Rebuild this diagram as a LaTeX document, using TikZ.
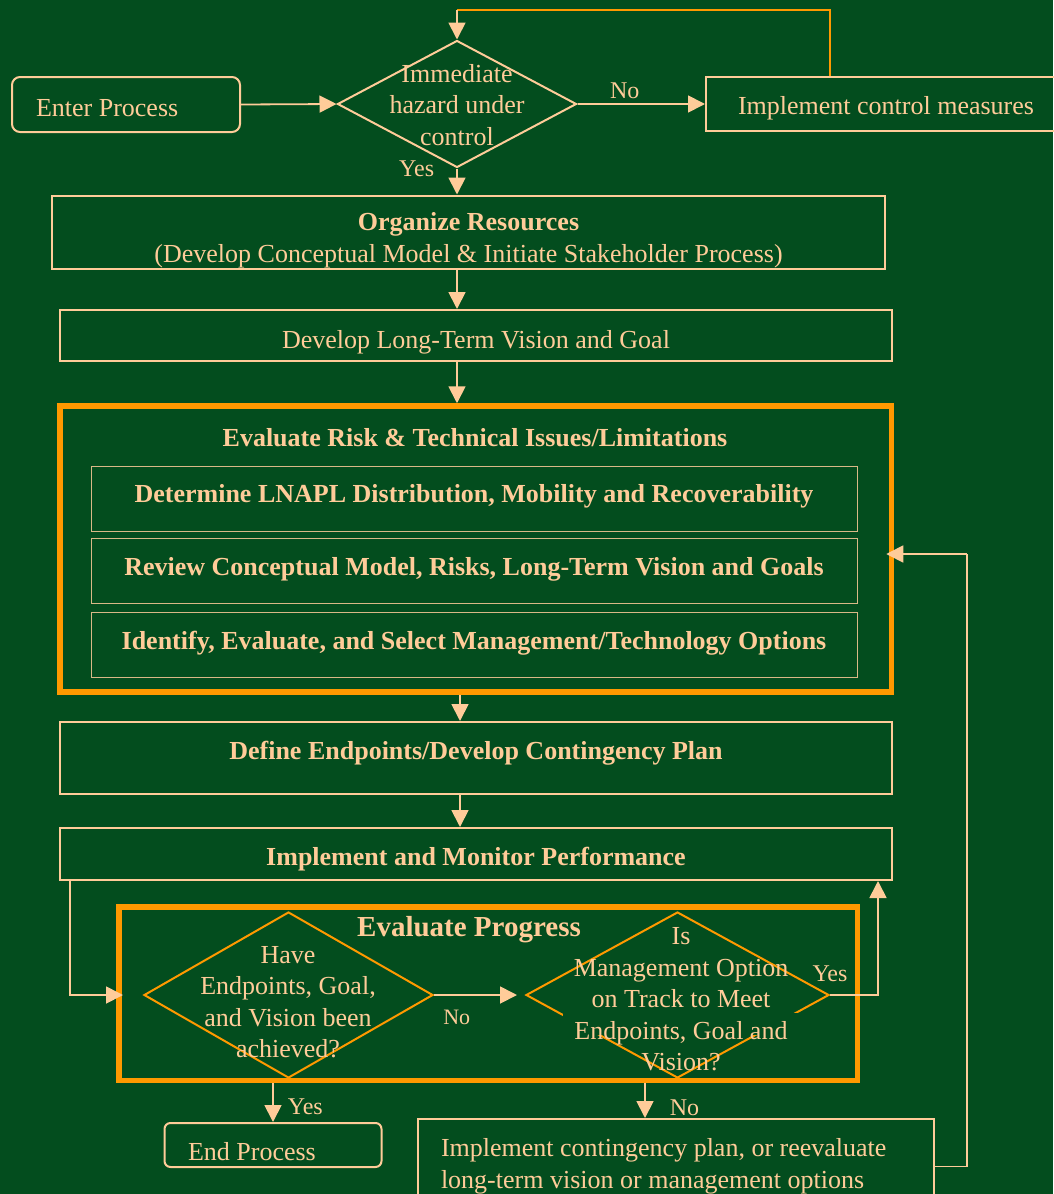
\documentclass[tikz,border=0pt]{standalone}
\usepackage{fontspec}
\setmainfont{Liberation Serif}
\usepackage{xcolor}
\usetikzlibrary{arrows.meta, shapes.geometric, calc}

\definecolor{bggreen}{RGB}{3,77,30}
\definecolor{peach}{RGB}{255,204,153}
\definecolor{amber}{RGB}{255,153,0}
\newcommand{\sinktext}[2]{\raisebox{-#1}[\height][\depth]{#2}}

\begin{document}
\begin{tikzpicture}[x=1pt, y=-1pt, >={Triangle[length=17pt, width=17pt]},
  every node/.style={text=peach, inner sep=0pt, font=\fontsize{26}{31.5}\selectfont},
  box/.style={draw=peach, line width=2pt, align=center},
  subbox/.style={draw=peach!85!bggreen, line width=1pt, align=center, minimum width=766pt, minimum height=65pt, font=\fontsize{26}{31.5}\selectfont\bfseries},
  hilite/.style={draw=amber, line width=5.5pt},
  decision/.style={diamond, draw=#1, line width=2pt},
  link/.style={->, draw=peach, line width=1.8pt},
  lbl/.style={font=\fontsize{24}{28}\selectfont}]
  \useasboundingbox (0,0) rectangle (1053,1194);
  \fill[bggreen] (0,0) rectangle (1053,1194);

  % top row
  \node[box, rounded corners=8pt, minimum width=228pt, minimum height=55pt, text width=180pt, align=flush left] (enter) at (126,104.5) {\sinktext{4pt}{Enter Process}};
  \node[decision=peach, minimum width=239pt, minimum height=127pt] (hazard) at (457,104) {};
  \node[align=center] (hazardtxt) at (457,105) {Immediate\\hazard under\\control};
  \node[box, minimum width=360pt, minimum height=54pt] (control) at (886,104) {\sinktext{4pt}{Implement control measures}};
  \coordinate (looptop) at (457,10);

  \node[box, minimum width=833pt, minimum height=73pt] (organize) at (468.5,232) {\sinktext{8pt}{\begin{tabular}{@{}c@{}}\textbf{Organize Resources}\\(Develop Conceptual Model \& Initiate Stakeholder Process)\end{tabular}}};
  \node[box, minimum width=832pt, minimum height=51pt] (vision) at (476,335.5) {\sinktext{7pt}{Develop Long-Term Vision and Goal}};

  % risk block
  \node[hilite, minimum width=831.5pt, minimum height=286pt] (evalrisk) at (475.75,549) {};
  \node[font=\fontsize{26}{31.5}\selectfont\bfseries] (risktitle) at (475,438) {Evaluate Risk \& Technical Issues/Limitations};
  \node[subbox] (lnapl) at (474,499) {\sinktext{-3pt}{Determine LNAPL Distribution, Mobility and Recoverability}};
  \node[subbox] (review) at (474,571) {\sinktext{-2pt}{Review Conceptual Model, Risks, Long-Term Vision and Goals}};
  \node[subbox] (select) at (474,645) {\sinktext{-2pt}{Identify, Evaluate, and Select Management/Technology Options}};

  \node[box, minimum width=832pt, minimum height=72pt, font=\fontsize{26}{31.5}\selectfont\bfseries] (define) at (476,758) {\sinktext{-5pt}{Define Endpoints/Develop Contingency Plan}};
  \node[box, minimum width=832pt, minimum height=52pt, font=\fontsize{26}{31.5}\selectfont\bfseries] (monitor) at (476,854) {\sinktext{5pt}{Implement and Monitor Performance}};

  % progress block
  \node[hilite, minimum width=738.5pt, minimum height=173.5pt] (progress) at (488.25,993.75) {};
  \node[font=\fontsize{29}{34}\selectfont\bfseries] (progtitle) at (469,930) {Evaluate Progress};
  \node[decision=amber, minimum width=289pt, minimum height=166pt] (achieved) at (288.5,995) {};
  \node[align=center] (achievedtxt) at (288,1002) {Have\\Endpoints, Goal,\\and Vision been\\achieved?};
  \node[decision=amber, minimum width=303pt, minimum height=166pt] (ontrack) at (677.5,995) {};
  \fill[bggreen] (563,1013) rectangle (800,1035);
  \node[align=center] (ontracktxt) at (681,999.5) {Is\\Management Option\\on Track to Meet\\Endpoints, Goal and\\Vision?};

  \node[box, rounded corners=6pt, minimum width=217pt, minimum height=44pt, text width=170pt, align=flush left] (endp) at (273,1145) {\sinktext{7pt}{End Process}};
  \node[box, minimum width=516pt, minimum height=95pt, text width=470pt, align=flush left] (cont) at (676,1166.5) {Implement contingency plan, or reevaluate\\long-term vision or management options};
  \coordinate (colA) at (457,0);
  \coordinate (colB) at (460,0);
  \coordinate (fbtop) at (967,554);

  % connectors
  \draw[link] (enter.east) -- (hazard.west);
  \draw[link] (hazard.east) -- (control.west) node[lbl, pos=.37, above=4pt] {No};
  \draw[amber, line width=2pt] ([xshift=-56pt]control.north) |- (looptop);
  \draw[link] (looptop) -- (hazard.north);
  \draw[link] (hazard.south) -- (hazard.south |- organize.north) node[lbl, at start, left=22pt] {Yes};
  \draw[link] (colA |- organize.south) -- (colA |- vision.north);
  \draw[link] (colA |- vision.south) -- (colA |- evalrisk.north);
  \draw[link] (colB |- evalrisk.south) -- (colB |- define.north);
  \draw[link] (colB |- define.south) -- (colB |- monitor.north);
  \draw[link, shorten >=20pt] ([xshift=11pt]monitor.south west) |- (achieved.west);
  \draw[link, shorten >=8pt] (achieved.east) -- (ontrack.west) node[lbl, pos=.25, below=14pt, font=\fontsize{22}{26}\selectfont] {No};
  \draw[link] (ontrack.east) -| ([xshift=-15pt]monitor.south east) node[lbl, at start, above=12pt] {Yes};
  \draw[link] (endp.north |- progress.south) -- (endp.north) node[lbl, pos=.6, right=14pt] {Yes};
  \draw[link] ([xshift=-31pt]cont.north |- progress.south) -- ([xshift=-31pt]cont.north) node[lbl, pos=.7, right=24pt] {No};
  \draw[peach, line width=1.8pt] (cont.east) -| (fbtop);
  \draw[link] (fbtop) -- ([xshift=-8pt]evalrisk.east |- fbtop);
\end{tikzpicture}
\end{document}
